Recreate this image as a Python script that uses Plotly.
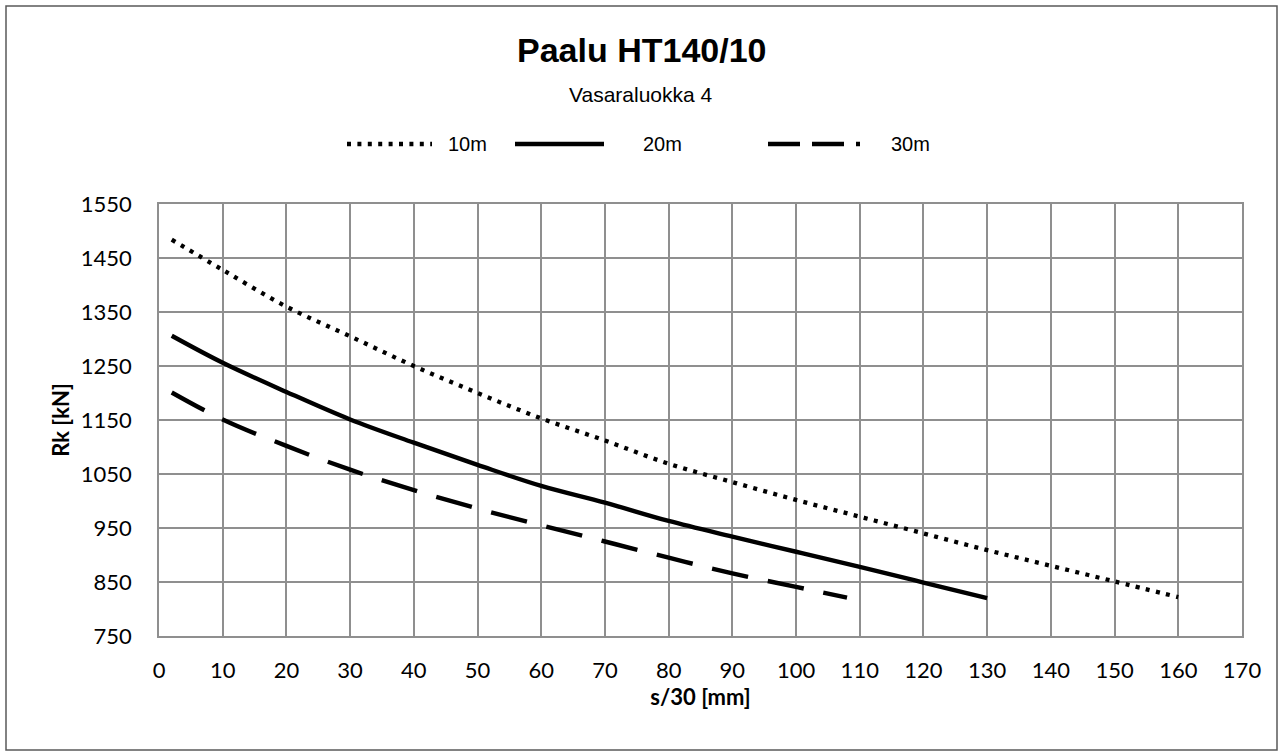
import plotly.graph_objects as go

# ---- data ----
x_10m = [2, 10, 20, 30, 40, 50, 60, 70, 80, 90, 100, 110, 120, 130, 140, 150, 160]
y_10m = [1484, 1428, 1360, 1305, 1250, 1200, 1153, 1112, 1069, 1035, 1002, 971, 940, 909, 880, 851, 822]

x_20m = [2, 10, 20, 30, 40, 50, 60, 70, 80, 90, 100, 110, 120, 130]
y_20m = [1306, 1256, 1202, 1151, 1108, 1067, 1028, 997, 963, 934, 906, 878, 849, 820]

x_30m = [2, 10, 20, 30, 40, 50, 60, 70, 80, 90, 100, 108]
y_30m = [1201, 1151, 1102, 1058, 1020, 986, 955, 925, 895, 866, 841, 821]

series_names = ["10m", "20m", "30m"]
x_ticks = list(range(0, 171, 10))
y_ticks = list(range(750, 1551, 100))

title_text = "Paalu HT140/10"
subtitle_text = "Vasaraluokka 4"
x_title = "s/30 [mm]"
y_title = "Rk [kN]"

# ---- layout geometry (pixels) ----
W, H = 1283, 756
ML, MR, MT, MB = 159, 41, 204, 120
PW, PH = W - ML - MR, H - MT - MB


def px(x):
    return (x - ML) / PW


def py(y):
    return (H - MB - y) / PH


dot_dash = "4px,6.4px"
long_dash = "37px,20px"

fig = go.Figure()
fig.add_trace(go.Scatter(x=x_10m, y=y_10m, mode="lines", name=series_names[0],
                         line=dict(color="black", width=4.3, dash=dot_dash, shape="spline"),
                         showlegend=False))
fig.add_trace(go.Scatter(x=x_20m, y=y_20m, mode="lines", name=series_names[1],
                         line=dict(color="black", width=4.4, shape="spline"),
                         showlegend=False))
fig.add_trace(go.Scatter(x=x_30m, y=y_30m, mode="lines", name=series_names[2],
                         line=dict(color="black", width=4.4, dash=long_dash, shape="spline"),
                         showlegend=False))

grid = "#8f8f8f"
tickfont = dict(family="Lato", size=22, color="black")

fig.update_xaxes(range=[0, 170], tickvals=x_ticks, ticktext=[str(v) for v in x_ticks],
                 showgrid=True, gridcolor=grid, gridwidth=1.5,
                 showline=True, linecolor=grid, linewidth=1.5, mirror=True,
                 zeroline=False, ticks="", tickfont=tickfont, ticklabelstandoff=14,
                 title=dict(text="<b>" + x_title + "</b>", font=dict(family="Lato", size=22, color="black"),
                            standoff=0))
fig.update_yaxes(range=[750, 1550], tickvals=y_ticks, ticktext=[str(v) for v in y_ticks],
                 showgrid=True, gridcolor=grid, gridwidth=1.5,
                 showline=True, linecolor=grid, linewidth=1.5, mirror=True,
                 zeroline=False, ticks="", tickfont=tickfont, ticklabelstandoff=21,
                 title=dict(text="<b>" + y_title + "</b>", font=dict(family="Lato", size=22, color="black"),
                            standoff=5))

annotations = [
    dict(text="<b>" + title_text + "</b>", x=px(641), y=py(50), xref="paper", yref="paper",
         showarrow=False, xanchor="center", yanchor="middle",
         font=dict(family="Liberation Sans", size=34, color="black")),
    dict(text=subtitle_text, x=px(641), y=py(95), xref="paper", yref="paper",
         showarrow=False, xanchor="center", yanchor="middle",
         font=dict(family="Liberation Sans", size=21, color="black")),
]

shapes = [
    # outer chart border
    dict(type="rect", xref="paper", yref="paper", x0=px(6), x1=px(1277), y0=py(750), y1=py(6),
         line=dict(color="#595959", width=1.5), layer="below"),
]

legend_items = [
    (series_names[0], 347, 432, 446, dict(color="black", width=4.3, dash=dot_dash)),
    (series_names[1], 515, 604, 641, dict(color="black", width=4.4)),
    (series_names[2], 768, 860, 889, dict(color="black", width=4.4, dash="32px,12px")),
]
ly = 144
for name, sx0, sx1, tx, ln in legend_items:
    shapes.append(dict(type="line", xref="paper", yref="paper", x0=px(sx0), x1=px(sx1),
                       y0=py(ly), y1=py(ly), line=ln))
    annotations.append(dict(text=name, x=px(tx), y=py(ly), xref="paper", yref="paper",
                            showarrow=False, xanchor="left", yanchor="middle",
                            font=dict(family="Liberation Sans", size=20, color="black")))

fig.update_layout(
    width=W, height=H,
    margin=dict(l=ML, r=MR, t=MT, b=MB),
    paper_bgcolor="white", plot_bgcolor="white",
    annotations=annotations, shapes=shapes,
    showlegend=False,
)

fig.write_html("out.html")
